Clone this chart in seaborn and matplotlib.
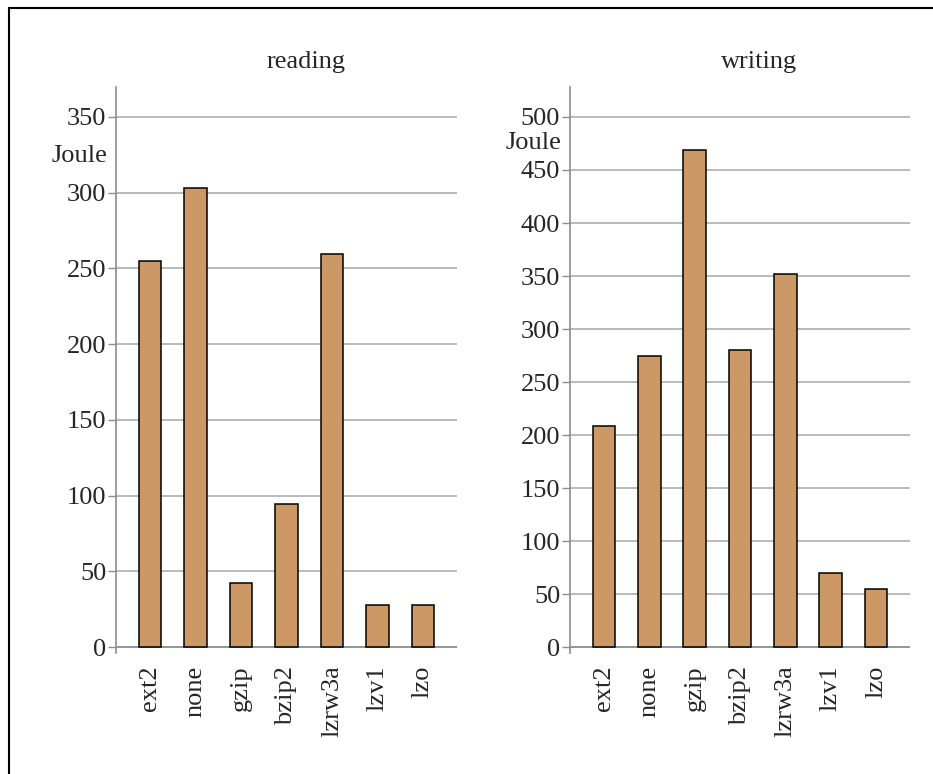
import matplotlib
matplotlib.use('Agg')
import matplotlib.pyplot as plt
from matplotlib.lines import Line2D
import seaborn as sns

codecs = ['ext2', 'none', 'gzip', 'bzip2', 'lzrw3a', 'lzv1', 'lzo']
reading_joule = [255, 303, 42.5, 94.5, 259.5, 28, 27.5]
writing_joule = [208.5, 274.5, 469, 280.5, 352, 69.5, 54.5]

reading_ticks = [0, 50, 100, 150, 200, 250, 300, 350]
writing_ticks = [0, 50, 100, 150, 200, 250, 300, 350, 400, 450, 500]

BAR_COLOR = '#CC9966'
GRID_COLOR = '#b4b4b4'
AXIS_COLOR = '#8c8c8c'

sns.set_theme(style='white')
plt.rcParams['font.family'] = ['Liberation Serif', 'DejaVu Serif']
plt.rcParams['font.size'] = 19


def draw_panel(ax, values, ticks, ylim, title, joule_y):
	for t in ticks[1:]:
		ax.axhline(t, color=GRID_COLOR, linewidth=1.3, zorder=0)
	ax.axhline(0, color=AXIS_COLOR, linewidth=1.3, zorder=0)

	sns.barplot(x=codecs, y=values, ax=ax, color=BAR_COLOR, saturation=1,
		edgecolor='black', linewidth=1.1, width=0.5, zorder=2)

	ax.set_xlim(-0.75, len(codecs) - 0.25)
	ax.set_ylim(*ylim)
	ax.set_yticks(ticks)
	ax.set_yticklabels([str(t) for t in ticks], fontsize=19)
	ax.tick_params(axis='y', length=6, width=1, color=AXIS_COLOR, pad=1, left=True)
	ax.tick_params(axis='x', length=0, pad=9)
	for lab in ax.get_xticklabels():
		lab.set_rotation(90)
		lab.set_fontsize(19)

	for side in ['top', 'right', 'bottom']:
		ax.spines[side].set_visible(False)
	ax.spines['left'].set_color(AXIS_COLOR)
	ax.spines['left'].set_linewidth(1.2)

	ax.set_ylabel('Joule', rotation=0, ha='right', va='center', fontsize=19)
	ax.yaxis.set_label_coords(-0.025, joule_y)
	ax.text(0.556, 1.044, title, transform=ax.transAxes, ha='center', va='center', fontsize=19)


fig = plt.figure(figsize=(9.33, 7.74), dpi=100)
ax1 = fig.add_axes([0.1243, 0.1563, 0.3655, 0.7313])
ax2 = fig.add_axes([0.6109, 0.1563, 0.3644, 0.7313])

draw_panel(ax1, reading_joule, reading_ticks, (-3.96, 369.8), 'reading', 0.878)
draw_panel(ax2, writing_joule, writing_ticks, (-5.66, 528.3), 'writing', 0.901)

# frame around the picture (only top and left edge are visible)
fig.add_artist(Line2D([9 / 933, 1], [1 - 8 / 774, 1 - 8 / 774], color='black', linewidth=1.5, transform=fig.transFigure))
fig.add_artist(Line2D([9 / 933, 9 / 933], [0, 1 - 8 / 774], color='black', linewidth=1.5, transform=fig.transFigure))

fig.savefig('out.png', dpi=100)
